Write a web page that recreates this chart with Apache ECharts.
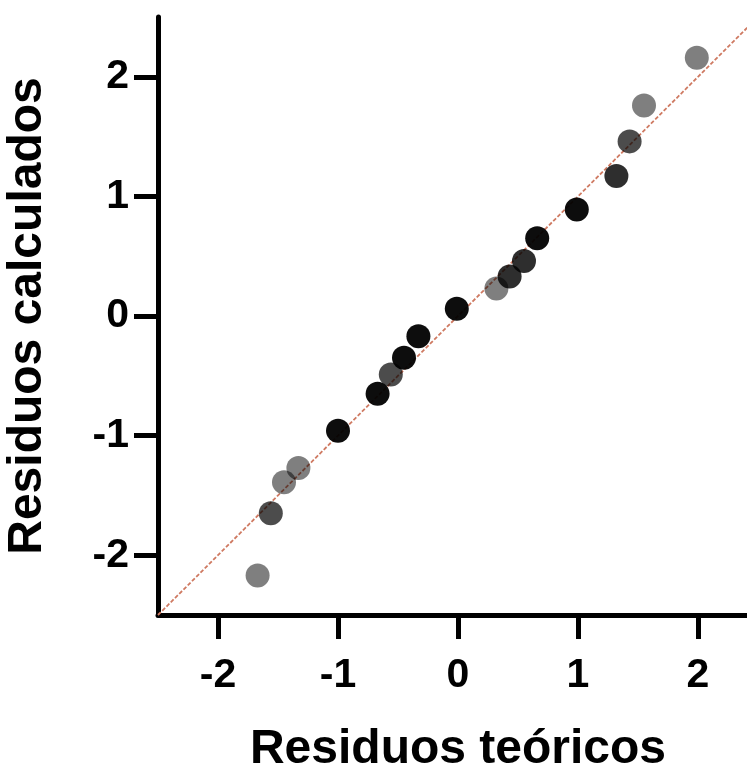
<!DOCTYPE html>
<html>
<head>
<meta charset="utf-8">
<style>
  html, body { margin: 0; padding: 0; background: #fff; }
  #chart { width: 747px; height: 769px; }
</style>
<script src="https://cdn.jsdelivr.net/npm/echarts@6/dist/echarts.min.js"></script>
</head>
<body>
<div id="chart"></div>
<script>
// theoretical vs calculated residuals (Q-Q plot)
const teoricos = [-1.67, -1.56, -1.45, -1.33, -1.00, -0.67, -0.56, -0.45, -0.33, -0.01,
  0.32, 0.43, 0.55, 0.66, 0.99, 1.32, 1.43, 1.55, 1.99];
const calculados = [-2.17, -1.65, -1.39, -1.27, -0.96, -0.65, -0.49, -0.35, -0.17, 0.06,
  0.23, 0.33, 0.46, 0.65, 0.89, 1.17, 1.46, 1.76, 2.16];
// shade group of each point (0 = black ... 3 = light grey)
const tono = [3, 2, 3, 3, 0, 0, 2, 0, 0, 0, 3, 1, 1, 0, 0, 1, 2, 3, 3];
const ticks = [-2, -1, 0, 1, 2];
const refLine = [[-2.5, -2.5], [2.5, 2.5]];

const opacities = [0.95, 0.82, 0.7, 0.5];
const font = '"Liberation Sans", Arial, Helvetica, sans-serif';

const points = teoricos.map((x, i) => ({
  value: [x, calculados[i]],
  itemStyle: { opacity: opacities[tono[i]] }
}));

function axis(name, gap, labelMargin) {
  return {
    type: 'value',
    min: -2.5,
    max: 2.5,
    interval: 0.5,
    name: name,
    nameLocation: 'middle',
    nameGap: gap,
    nameTextStyle: { fontFamily: font, fontWeight: 'bold', fontSize: 48, color: '#000' },
    axisLine: { onZero: false, lineStyle: { color: '#000', width: 5 } },
    axisTick: { customValues: ticks, length: 24, lineStyle: { color: '#000', width: 5 } },
    axisLabel: {
      customValues: ticks,
      margin: labelMargin,
      fontFamily: font,
      fontWeight: 'bold',
      fontSize: 41,
      color: '#000'
    },
    splitLine: { show: false }
  };
}

const chart = echarts.init(document.getElementById('chart'));
chart.setOption({
  animation: false,
  backgroundColor: '#fff',
  grid: { left: 158, right: -11, top: 17, bottom: 154, outerBoundsMode: 'none' },
  xAxis: axis('Residuos teóricos', 111, 40),
  yAxis: axis('Residuos calculados', 106, 29),
  series: [
    {
      type: 'line',
      data: refLine,
      symbol: 'none',
      z: 1,
      lineStyle: { color: '#cf7a62', width: 1.8, type: [4, 2] }
    },
    {
      type: 'scatter',
      data: points,
      symbolSize: 24,
      z: 2,
      itemStyle: { color: '#000' }
    }
  ]
});
</script>
</body>
</html>
